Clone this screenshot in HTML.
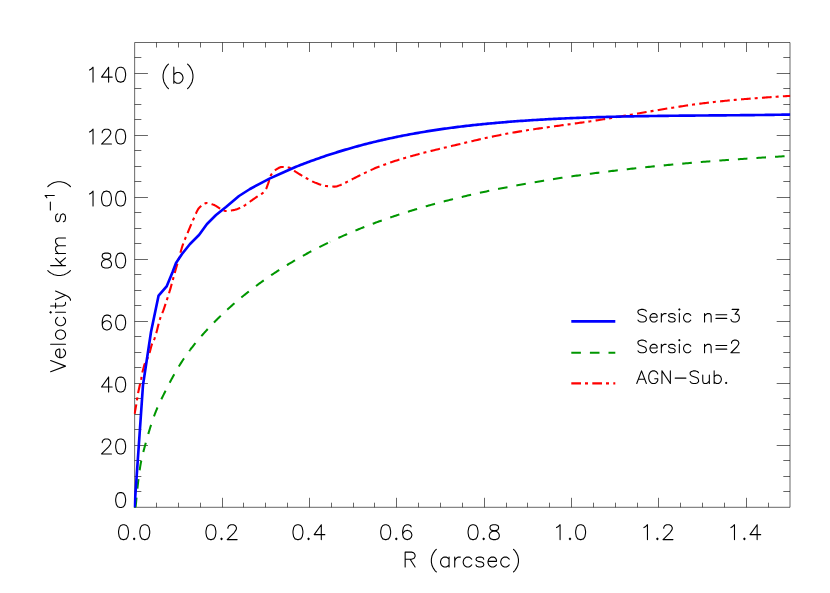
<!DOCTYPE html>
<html lang="en"><head><meta charset="utf-8"><title>Velocity vs R (b)</title>
<style>
html,body{margin:0;padding:0;background:#fff;}
body{width:830px;height:593px;overflow:hidden;font-family:"Liberation Sans",sans-serif;}
svg{display:block;}
.sem{font-family:"Liberation Sans",sans-serif;fill:#000;fill-opacity:0;stroke:none;}
</style></head>
<body>
<svg width="830" height="593" viewBox="0 0 830 593">
<rect x="0" y="0" width="830" height="593" fill="#fff"/>
<defs><clipPath id="plotclip"><rect x="133.65" y="42.5" width="656.55" height="465.4"/></clipPath></defs>
<!-- axes frame and tick marks -->
<path d="M134.65 42.5H790V507.3H134.65ZM156.5 507.3v-4.6M156.5 42.5v5M178.5 507.3v-4.6M178.5 42.5v5M200.5 507.3v-4.6M200.5 42.5v5M222.5 507.3v-9.5M222.5 42.5v9.5M243.5 507.3v-4.6M243.5 42.5v5M265.5 507.3v-4.6M265.5 42.5v5M287.5 507.3v-4.6M287.5 42.5v5M309.5 507.3v-9.5M309.5 42.5v9.5M331.5 507.3v-4.6M331.5 42.5v5M353.5 507.3v-4.6M353.5 42.5v5M374.5 507.3v-4.6M374.5 42.5v5M396.5 507.3v-9.5M396.5 42.5v9.5M418.5 507.3v-4.6M418.5 42.5v5M440.5 507.3v-4.6M440.5 42.5v5M462.5 507.3v-4.6M462.5 42.5v5M484.5 507.3v-9.5M484.5 42.5v9.5M506.5 507.3v-4.6M506.5 42.5v5M527.5 507.3v-4.6M527.5 42.5v5M549.5 507.3v-4.6M549.5 42.5v5M571.5 507.3v-9.5M571.5 42.5v9.5M593.5 507.3v-4.6M593.5 42.5v5M615.5 507.3v-4.6M615.5 42.5v5M637.5 507.3v-4.6M637.5 42.5v5M658.5 507.3v-9.5M658.5 42.5v9.5M680.5 507.3v-4.6M680.5 42.5v5M702.5 507.3v-4.6M702.5 42.5v5M724.5 507.3v-4.6M724.5 42.5v5M746.5 507.3v-9.5M746.5 42.5v9.5M768.5 507.3v-4.6M768.5 42.5v5M134.65 491.5h6.7M790 491.5h-6.7M134.65 476.5h6.7M790 476.5h-6.7M134.65 460.5h6.7M790 460.5h-6.7M134.65 445.5h13.3M790 445.5h-13.3M134.65 429.5h6.7M790 429.5h-6.7M134.65 414.5h6.7M790 414.5h-6.7M134.65 398.5h6.7M790 398.5h-6.7M134.65 383.5h13.3M790 383.5h-13.3M134.65 367.5h6.7M790 367.5h-6.7M134.65 352.5h6.7M790 352.5h-6.7M134.65 336.5h6.7M790 336.5h-6.7M134.65 321.5h13.3M790 321.5h-13.3M134.65 305.5h6.7M790 305.5h-6.7M134.65 290.5h6.7M790 290.5h-6.7M134.65 274.5h6.7M790 274.5h-6.7M134.65 259.5h13.3M790 259.5h-13.3M134.65 243.5h6.7M790 243.5h-6.7M134.65 228.5h6.7M790 228.5h-6.7M134.65 212.5h6.7M790 212.5h-6.7M134.65 197.5h13.3M790 197.5h-13.3M134.65 181.5h6.7M790 181.5h-6.7M134.65 166.5h6.7M790 166.5h-6.7M134.65 150.5h6.7M790 150.5h-6.7M134.65 135.5h13.3M790 135.5h-13.3M134.65 119.5h6.7M790 119.5h-6.7M134.65 104.5h6.7M790 104.5h-6.7M134.65 88.5h6.7M790 88.5h-6.7M134.65 73.5h13.3M790 73.5h-13.3M134.65 57.5h6.7M790 57.5h-6.7" fill="none" stroke="#000" stroke-width="0.6" stroke-linecap="butt" stroke-linejoin="miter"/>
<g clip-path="url(#plotclip)" fill="none" stroke-linejoin="round" stroke-linecap="butt">
<!-- Sersic n=2 (green dashed) -->
<path d="M134.65 507.3L134.65 508.17L134.66 508.96L134.66 509.66L134.67 510.29L134.68 510.85L134.7 511.32L134.72 511.73L134.74 512.06L134.76 512.33L134.78 512.52L134.81 512.65L134.84 512.72L134.88 512.72L134.91 512.66L134.95 512.54L134.99 512.36L135.04 512.13L135.08 511.83L135.13 511.49L135.19 511.09L135.24 510.65L135.3 510.15L135.36 509.61L135.42 509.02L135.49 508.39L135.56 507.72L135.63 507.01L135.7 506.25L135.78 505.46L135.86 504.64L135.94 503.78L136.02 502.88L136.11 501.96L136.2 501.01L136.29 500.03L136.39 499.02L136.49 498L136.59 496.94L136.69 495.87L136.8 494.78L136.91 493.67L137.02 492.54L137.13 491.4L137.25 490.24L137.37 489.08L137.49 487.9L137.61 486.72L137.74 485.53L137.87 484.34L138.01 483.14L138.14 481.94L138.28 480.74L138.42 479.54L138.56 478.35L138.71 477.16L138.86 475.98L139.01 474.81L139.16 473.64L139.32 472.49L139.48 471.35L139.64 470.23L139.81 469.12L139.98 468.03L140.15 466.96L140.32 465.91L140.5 464.88L140.67 463.88L140.86 462.89L141.04 461.93L141.23 460.99L141.42 460.06L141.61 459.15L141.8 458.25L142 457.37L142.2 456.5L142.4 455.63L142.61 454.78L142.82 453.93L143.03 453.09L143.24 452.25L143.46 451.42L143.67 450.59L143.9 449.75L144.12 448.92L144.35 448.08L144.58 447.24L144.81 446.39L145.04 445.54L145.28 444.67L145.52 443.8L145.76 442.92L146.01 442.04L146.26 441.15L146.51 440.25L146.76 439.35L147.02 438.44L147.28 437.52L147.54 436.61L147.8 435.69L148.07 434.76L148.34 433.84L148.61 432.91L148.89 431.98L149.17 431.05L149.45 430.12L149.73 429.19L150.02 428.25L150.3 427.32L150.6 426.39L150.89 425.46L151.19 424.54L151.49 423.61L151.79 422.69L152.09 421.78L152.4 420.86L152.71 419.95L153.02 419.05L153.34 418.15L153.66 417.26L153.98 416.37L154.3 415.49L154.63 414.62L154.95 413.76L155.29 412.9L155.62 412.06L155.96 411.22L156.3 410.39L156.64 409.57L156.98 408.75L157.33 407.94L157.68 407.14L158.03 406.34L158.39 405.55L158.75 404.76L159.11 403.98L159.47 403.2L159.84 402.42L160.21 401.64L160.58 400.86L160.96 400.08L161.33 399.3L161.71 398.52L162.09 397.74L162.48 396.96L162.87 396.17L163.26 395.38L163.65 394.59L164.05 393.79L164.45 392.99L164.85 392.18L165.25 391.37L165.66 390.56L166.07 389.75L166.48 388.94L166.89 388.12L167.31 387.3L167.73 386.48L168.15 385.65L168.58 384.83L169.01 384L169.44 383.18L169.87 382.35L170.31 381.52L170.75 380.7L171.19 379.87L171.63 379.04L172.08 378.22L172.53 377.39L172.98 376.56L173.44 375.74L173.89 374.92L174.35 374.09L174.82 373.27L175.28 372.45L175.75 371.64L176.22 370.82L176.7 370.01L177.17 369.2L177.65 368.4L178.13 367.59L178.62 366.79L179.11 366L179.6 365.21L180.09 364.42L180.58 363.63L181.08 362.85L181.58 362.08L182.09 361.3L182.59 360.54L183.1 359.77L183.61 359.01L184.13 358.25L184.64 357.5L185.16 356.75L185.68 356L186.21 355.25L186.74 354.51L187.27 353.77L187.8 353.04L188.33 352.31L188.87 351.58L189.41 350.85L189.96 350.13L190 350.07" stroke="#009600" stroke-width="2.05" stroke-dasharray="9.6 9" stroke-dashoffset="7.56"/>
<path d="M190 350.07L190.5 349.41L191.05 348.69L191.6 347.97L192.16 347.26L192.71 346.55L193.27 345.84L193.84 345.13L194.4 344.42L194.97 343.72L195.54 343.02L196.11 342.32L196.69 341.62L197.27 340.93L197.85 340.23L198.43 339.54L199.02 338.85L199.61 338.16L200.2 337.47L200.79 336.78L201.39 336.09L201.99 335.41L202.59 334.72L203.2 334.04L203.81 333.36L204.42 332.68L205.03 332L205.65 331.32L206.27 330.64L206.89 329.96L207.51 329.28L208.14 328.61L208.77 327.93L209.4 327.26L210.03 326.59L210.67 325.92L211.31 325.24L211.95 324.58L212.6 323.91L213.25 323.24L213.9 322.57L214.55 321.91L215.21 321.24L215.87 320.58L216.53 319.92L217.19 319.26L217.86 318.6L218.53 317.94L219.2 317.28L219.88 316.62L220.56 315.97L221.24 315.31L221.92 314.66L222.61 314L223.29 313.35L223.99 312.7L224.68 312.05L225.38 311.4L226.07 310.76L226.78 310.11L227.48 309.47L228.19 308.82L228.9 308.18L229.61 307.54L230.33 306.9L231.04 306.26L231.77 305.62L232.49 304.98L233.21 304.35L233.94 303.71L234.68 303.08L235.41 302.44L236.15 301.81L236.89 301.18L237.63 300.55L238.37 299.92L239.12 299.3L239.87 298.67L240.62 298.05L241.38 297.42L242.14 296.8L242.9 296.18L243.66 295.56L244.43 294.94L245.2 294.33L245.97 293.71L246.74 293.09L247.52 292.48L248.3 291.87L249.08 291.26L249.87 290.65L250.66 290.04L251.45 289.43L252.24 288.82L253.04 288.22L253.83 287.61L254.63 287.01L255.44 286.41L256.25 285.81L257.05 285.21L257.87 284.61L258.68 284.01L259.5 283.42L260.32 282.82L261.14 282.23L261.97 281.64L262.79 281.05L263.63 280.46L264.46 279.87L265.3 279.29L266.13 278.7L266.98 278.12L267.82 277.53L268.67 276.95L269.52 276.37L270.37 275.79L271.22 275.22L272.08 274.64L272.94 274.07L273.8 273.49L274.67 272.92L275.54 272.35L276.41 271.78L277.28 271.21L278.16 270.64L279.04 270.08L279.92 269.51L280.8 268.95L281.69 268.39L282.58 267.83L283.47 267.27L284.37 266.71L285.27 266.16L286.17 265.6L287.07 265.05L287.98 264.5L288.89 263.95L289.8 263.4L290.71 262.85L291.63 262.3L292.55 261.76L293.47 261.22L294.39 260.67L295.32 260.13L296.25 259.59L297.18 259.06L298.12 258.52L299.06 257.98L300 257.45L300.94 256.92L301.89 256.39L302.84 255.86L303.79 255.33L304.74 254.8L305.7 254.28L306.66 253.75L307.62 253.23L308.59 252.71L309.55 252.19L310.52 251.67L311.5 251.16L312.47 250.64L313.45 250.13L314.43 249.62L315.42 249.11L316.4 248.6L317.39 248.09L318.38 247.58L319.38 247.08L320.37 246.58L321.37 246.08L322.38 245.58L323.38 245.08L324.39 244.58L325.4 244.08L326.41 243.59L327.43 243.1L328.45 242.61L329.47 242.12L330 241.87" stroke="#009600" stroke-width="2.05" stroke-dasharray="9.6 9" stroke-dashoffset="0.71"/>
<path d="M330 241.87L330.49 241.63L331.52 241.14L332.55 240.66L333.58 240.18L334.62 239.69L335.65 239.21L336.69 238.74L337.74 238.26L338.78 237.78L339.83 237.31L340.88 236.84L341.94 236.37L342.99 235.9L344.05 235.43L345.11 234.96L346.18 234.5L347.24 234.04L348.31 233.58L349.39 233.12L350.46 232.66L351.54 232.2L352.62 231.75L353.7 231.29L354.79 230.84L355.88 230.39L356.97 229.95L358.06 229.5L359.16 229.05L360.26 228.61L361.36 228.17L362.46 227.73L363.57 227.29L364.68 226.85L365.79 226.42L366.91 225.98L368.03 225.55L369.15 225.12L370.27 224.69L371.4 224.27L372.52 223.84L373.66 223.42L374.79 222.99L375.93 222.57L377.07 222.15L378.21 221.74L379.35 221.32L380.5 220.91L381.65 220.49L382.8 220.08L383.96 219.67L385.12 219.26L386.28 218.86L387.44 218.45L388.61 218.05L389.78 217.65L390.95 217.25L392.12 216.85L393.3 216.45L394.48 216.06L395.66 215.66L396.85 215.27L398.04 214.88L399.23 214.49L400.42 214.1L401.61 213.71L402.81 213.33L404.01 212.94L405.22 212.56L406.42 212.18L407.63 211.8L408.85 211.42L410.06 211.05L411.28 210.67L412.5 210.3L413.72 209.93L414.95 209.56L416.17 209.19L417.4 208.82L418.64 208.46L419.87 208.09L421.11 207.73L422.35 207.37L423.6 207.01L424.84 206.65L426.09 206.29L427.35 205.94L428.6 205.59L429.86 205.23L431.12 204.88L432.38 204.53L433.65 204.18L434.92 203.84L436.19 203.49L437.46 203.15L438.74 202.81L440.02 202.46L441.3 202.12L442.58 201.79L443.87 201.45L445.16 201.11L446.45 200.78L447.75 200.45L449.04 200.12L450.34 199.79L451.65 199.46L452.95 199.13L454.26 198.81L455.57 198.48L456.89 198.16L458.2 197.84L459.52 197.52L460.85 197.2L462.17 196.88L463.5 196.56L464.83 196.25L466.16 195.94L467.5 195.62L468.83 195.31L470.17 195L471.52 194.7L472.86 194.39L474.21 194.08L475.56 193.78L476.92 193.48L478.28 193.18L479.63 192.88L481 192.58L482.36 192.28L483.73 191.98L485.1 191.69L486.47 191.4L487.85 191.1L489.23 190.81L490.61 190.52L491.99 190.23L493.38 189.95L494.77 189.66L496.16 189.38L497.55 189.09L498.95 188.81L500.35 188.53L501.75 188.25L503.16 187.98L504.57 187.7L505.98 187.42L507.39 187.15L508.81 186.88L510.22 186.6L511.65 186.33L513.07 186.06L514.5 185.8L515.93 185.53L517.36 185.26L518.79 185L520.23 184.74L521.67 184.47L523.11 184.21L524.56 183.95L526.01 183.7L527.46 183.44L528.91 183.18L530.37 182.93L531.82 182.68L533.29 182.42L534.75 182.17L536.22 181.92L537.69 181.67L539.16 181.43L540.63 181.18L542.11 180.94L543.59 180.69L545.08 180.45L546.56 180.21L548.05 179.97L549.54 179.73L551.03 179.49L552.53 179.25L554.03 179.02L555.53 178.78L557.04 178.55L558.54 178.32L560.05 178.09L561.57 177.86L563.08 177.63L564.6 177.4L566.12 177.17L567.64 176.95L569.17 176.72L570.7 176.5L572.23 176.28L573.76 176.06L575.3 175.84L576.84 175.62L578.38 175.4L579.93 175.18L581.47 174.97L583.02 174.76L584.58 174.54L586.13 174.33L587.69 174.12L589.25 173.91L590.81 173.7L592.38 173.49L593.95 173.28L595.52 173.08L597.1 172.87L598.67 172.67L600.25 172.47L601.83 172.27L603.42 172.07L605.01 171.87L606.6 171.67L608.19 171.47L609.79 171.28L611.38 171.08L612.99 170.89L614.59 170.69L616.2 170.5L617.8 170.31L619.42 170.12L621.03 169.93L622.65 169.74L624.27 169.55L625.89 169.37L627.52 169.18L629.14 169L630.77 168.82L632.41 168.63L634.04 168.45L635.68 168.27L637.32 168.09L638.97 167.92L640.62 167.74L642.26 167.56L643.92 167.39L645.57 167.21L647.23 167.04L648.89 166.87L650.55 166.7L652.22 166.53L653.89 166.36L655.56 166.19L657.23 166.02L658.91 165.85L660.59 165.69L662.27 165.52L663.95 165.36L665.64 165.2L667.33 165.03L669.02 164.87L670.72 164.71L672.41 164.55L674.11 164.4L675.82 164.24L677.52 164.08L679.23 163.93L680.94 163.77L682.66 163.62L684.37 163.46L686.09 163.31L687.81 163.16L689.54 163.01L691.27 162.86L693 162.71L694.73 162.57L696.46 162.42L698.2 162.27L699.94 162.13L701.69 161.98L703.43 161.84L705.18 161.7L706.93 161.56L708.69 161.42L710.44 161.28L712.2 161.14L713.96 161L715.73 160.86L717.5 160.73L719.27 160.59L721.04 160.45L722.82 160.32L724.59 160.19L726.38 160.05L728.16 159.92L729.95 159.79L731.73 159.66L733.53 159.53L735.32 159.4L737.12 159.28L738.92 159.15L740.72 159.02L742.52 158.9L744.33 158.77L746.14 158.65L747.96 158.53L749.77 158.41L751.59 158.28L753.41 158.16L755.24 158.04L757.06 157.93L758.89 157.81L760.72 157.69L762.56 157.57L764.4 157.46L766.24 157.34L768.08 157.23L769.92 157.11L771.77 157L773.62 156.89L775.48 156.78L777.33 156.66L779.19 156.55L781.05 156.44L782.92 156.34L784.78 156.23L786.65 156.12L788.53 156.01L790.4 155.91" stroke="#009600" stroke-width="2.05" stroke-dasharray="9.6 9" stroke-dashoffset="9.36"/>
<!-- AGN-Sub. (red dash-dot) -->
<path d="M134.5 414.5L136.2 405L138.1 393L139.6 386L141.2 378.8L142.2 373L144.6 364L145.18 363.14L145.76 362.13L146.34 360.98L146.92 359.71L147.5 358.34L148.08 356.87L148.66 355.33L149.24 353.73L149.82 352L150.4 349.82L150.98 347.48L151.56 345.32L152.14 343.66L152.72 342.47L153.3 341.43L153.88 340.28L154.46 338.81L155.04 337.1L155.62 335.25L156.2 333.33L156.78 331.22L157.36 328.96L157.94 326.62L158.52 324.29L159.1 322.07L159.68 320.02L160.26 318.23L160.84 316.65L161.42 315.19L162 313.79L162.58 312.39L163.16 310.92L163.74 309.33L164.32 307.67L164.9 305.95L165.48 304.19L166.06 302.41L166.64 300.62L167.22 298.83L167.8 297.04L168.38 295.23L168.96 293.4L169.54 291.53L170.12 289.6L170.7 287.61L171.28 285.56L171.86 283.47L172.44 281.35L173.02 279.22L173.6 277.08L174.18 274.96L174.76 272.86L175.34 270.81L175.92 268.77L176.5 266.74L177.08 264.71L177.66 262.69L178.24 260.67L178.82 258.64L179.4 256.58L179.98 254.45L180.56 252.29L181.14 250.18L181.72 248.17L182.3 246.31L182.88 244.62L183.46 243.02L184.04 241.5L184.62 240.03L185.2 238.62L185.78 237.24L186.36 235.88L186.94 234.52L187.52 233.16L188.1 231.77L188.68 230.37L189.26 228.97L189.84 227.57L190.42 226.19L191 224.81L191.58 223.45L192.16 222.11L192.74 220.79L193.32 219.49L193.9 218.22L194.48 216.95L195.06 215.61L195.64 214.26L196.22 212.92L196.8 211.63L197.38 210.45L197.96 209.4L198.54 208.54L199.12 207.89L199.7 207.32L200.28 206.77L200.86 206.23L201.44 205.72L202.02 205.24L202.59 204.8L203.17 204.39L203.75 204.02L204.33 203.71L204.91 203.44L205.49 203.24L206.07 203.09L206.65 203.01L207.23 203L207.81 203.04L208.39 203.12L208.97 203.24L209.55 203.38L210.13 203.55L210.71 203.74L211.29 203.95L211.87 204.17L212.45 204.39L213.03 204.62L213.61 204.85L214.19 205.08L214.77 205.33L215.35 205.63L215.93 205.95L216.51 206.3L217.09 206.66L217.67 207.04L218.25 207.41L218.83 207.78L219.41 208.14L219.99 208.48L220.57 208.79L221.15 209.07L221.73 209.37L222.31 209.67L222.89 209.98L223.47 210.28L224.05 210.54L224.63 210.76L225.21 210.92L225.79 210.99L226.37 211L226.95 210.98L227.53 210.95L228.11 210.9L228.69 210.85L229.27 210.78L229.85 210.71L230.43 210.62L231.01 210.53L231.59 210.44L232.17 210.34L232.75 210.23L233.33 210.12L233.91 210.02L234.49 209.9L235.07 209.76L235.65 209.6L236.23 209.43L236.81 209.24L237.39 209.03L237.97 208.81L238.55 208.57L239.13 208.33L239.71 208.07L240.29 207.81L240.87 207.54L241.45 207.26L242.03 206.98L242.61 206.69L243.19 206.36L243.77 206.02L244.35 205.64L244.93 205.26L245.51 204.85L246.09 204.44L246.67 204.02L247.25 203.59L247.83 203.16L248.41 202.73L248.99 202.31L249.57 201.9L250.15 201.5L250.73 201.1L251.31 200.7L251.89 200.29L252.47 199.89L253.05 199.48L253.63 199.08L254.21 198.67L254.79 198.26L255.37 197.86L255.95 197.45L256.53 197.04L257.11 196.63L257.69 196.22L258.27 195.81L258.85 195.44L259.43 195.09L260.01 194.76L260.59 194.44L261.17 194.11L261.75 193.76L262.33 193.38L262.91 192.97L263.49 192.51L264.07 191.99L264.65 191.4L265.23 190.7L265.81 189.66L266.39 188.32L266.97 186.8L267.55 185.21L268.13 183.65L268.71 181.85L269.29 179.86L269.87 177.9L270.45 176.19L271.03 174.95L271.61 174.04L272.19 173.22L272.77 172.48L273.35 171.82L273.93 171.23L274.51 170.7L275.09 170.23L275.67 169.82L276.25 169.44L276.83 169.08L277.41 168.72L277.99 168.38L278.57 168.05L279.15 167.76L279.73 167.5L280.31 167.29L280.89 167.13L281.47 167.03L282.05 167L282.63 167.01L283.21 167.02L283.79 167.05L284.37 167.08L284.95 167.12L285.53 167.17L286.11 167.23L286.69 167.29L287.27 167.36L287.85 167.44L288.43 167.52L289.01 167.6L289.59 167.73L290.17 167.95L290.75 168.23L291.33 168.57L291.91 168.96L292.49 169.38L293.07 169.83L293.65 170.28L294.23 170.74L294.81 171.18L295.39 171.6L295.97 171.98L296.55 172.34L297.13 172.7L297.71 173.05L298.29 173.41L298.87 173.77L299.45 174.13L300.03 174.49L300.61 174.85L301.19 175.2L301.77 175.55L302.35 175.9L302.93 176.25L303.51 176.59L304.09 176.92L304.67 177.26L305.25 177.58L305.83 177.9L306.41 178.22L306.99 178.54L307.57 178.86L308.15 179.18L308.73 179.5L309.31 179.81L309.89 180.12L310.47 180.43L311.05 180.74L311.63 181.03L312.21 181.33L312.79 181.61L313.37 181.88L313.95 182.15L314.53 182.41L315.11 182.65L315.69 182.88L316.27 183.1L316.85 183.32L317.43 183.54L318.01 183.76L318.58 183.98L319.16 184.19L319.74 184.4L320.32 184.61L320.9 184.8L321.48 184.99L322.06 185.17L322.64 185.33L323.22 185.49L323.8 185.63L324.38 185.75L324.96 185.86L325.54 185.94L326.12 186.01L326.7 186.08L327.28 186.13L327.86 186.19L328.44 186.25L329.02 186.3L329.6 186.35L330.18 186.4L330.76 186.44L331.34 186.48L331.92 186.51L332.5 186.54L333.08 186.56L333.66 186.58L334.24 186.59L334.82 186.6L335.4 186.58L335.98 186.51L336.56 186.39L337.14 186.23L337.72 186.04L338.3 185.83L338.88 185.61L339.46 185.39L340.04 185.18L340.62 184.97L341.2 184.73L341.78 184.48L342.36 184.21L342.94 183.93L343.52 183.64L344.1 183.35L344.68 183.06L345.26 182.76L345.84 182.48L346.42 182.19L347 181.91L347.58 181.62L348.16 181.33L348.74 181.03L349.32 180.73L349.9 180.44L350.48 180.14L351.06 179.84L351.64 179.53L352.22 179.23L352.8 178.93L353.38 178.63L353.96 178.33L354.54 178.04L355.12 177.74L355.7 177.45L356.28 177.16L356.86 176.87L357.44 176.58L358.02 176.29L358.6 176L359.18 175.72L359.76 175.43L360.34 175.14L360.92 174.86L361.5 174.57L362.08 174.29L362.66 174.01L363.24 173.72L363.82 173.44L364.4 173.16L364.98 172.89L365.56 172.61L366.14 172.33L366.72 172.06L367.3 171.79L367.88 171.51L368.46 171.24L369.04 170.97L369.62 170.7L370.2 170.43L370.78 170.16L371.36 169.9L371.94 169.63L372.52 169.37L373.1 169.1L373.68 168.84L374.26 168.58L374.84 168.32L375.42 168.06L376 167.8L377.39 167.25L378.77 166.72L380.16 166.19L381.54 165.67L382.93 165.16L384.32 164.66L385.7 164.16L387.09 163.67L388.47 163.19L389.86 162.71L391.25 162.24L392.63 161.78L394.02 161.32L395.4 160.87L396.79 160.43L398.18 159.99L399.56 159.56L400.95 159.14L402.33 158.72L403.72 158.3L405.11 157.89L406.49 157.49L407.88 157.09L409.26 156.69L410.65 156.3L412.03 155.91L413.42 155.53L414.81 155.15L416.19 154.78L417.58 154.41L418.96 154.04L420.35 153.67L421.74 153.31L423.12 152.95L424.51 152.6L425.89 152.25L427.28 151.9L428.67 151.55L430.05 151.21L431.44 150.86L432.82 150.52L434.21 150.18L435.6 149.84L436.98 149.51L438.37 149.17L439.75 148.84L441.14 148.5L442.53 148.17L443.91 147.84L445.3 147.51L446.68 147.18L448.07 146.85L449.46 146.51L450.84 146.18L452.23 145.85L453.61 145.52L455 145.19L456.39 144.86L457.77 144.52L459.16 144.19L460.54 143.86L461.93 143.53L463.32 143.2L464.7 142.87L466.09 142.54L467.47 142.22L468.86 141.89L470.24 141.57L471.63 141.24L473.02 140.92L474.4 140.6L475.79 140.28L477.17 139.96L478.56 139.64L479.95 139.33L481.33 139.02L482.72 138.71L484.1 138.4L485.49 138.09L486.88 137.79L488.26 137.49L489.65 137.19L491.03 136.89L492.42 136.6L493.81 136.31L495.19 136.02L496.58 135.74L497.96 135.46L499.35 135.18L500.74 134.9L502.12 134.63L503.51 134.37L504.89 134.1L506.28 133.84L507.67 133.58L509.05 133.33L510.44 133.08L511.82 132.83L513.21 132.59L514.6 132.35L515.98 132.11L517.37 131.87L518.75 131.64L520.14 131.41L521.53 131.18L522.91 130.95L524.3 130.73L525.68 130.51L527.07 130.29L528.45 130.07L529.84 129.86L531.23 129.64L532.61 129.43L534 129.23L535.38 129.02L536.77 128.81L538.16 128.61L539.54 128.41L540.93 128.2L542.31 128.01L543.7 127.81L545.09 127.61L546.47 127.41L547.86 127.22L549.24 127.02L550.63 126.83L552.02 126.64L553.4 126.45L554.79 126.25L556.17 126.06L557.56 125.87L558.95 125.68L560.33 125.49L561.72 125.3L563.1 125.11L564.49 124.92L565.88 124.74L567.26 124.55L568.65 124.36L570.03 124.17L571.42 123.98L572.81 123.79L574.19 123.59L575.58 123.4L576.96 123.21L578.35 123.02L579.74 122.82L581.12 122.63L582.51 122.43L583.89 122.23L585.28 122.04L586.66 121.84L588.05 121.64L589.44 121.43L590.82 121.23L592.21 121.02L593.59 120.82L594.98 120.61L596.37 120.4L597.75 120.19L599.14 119.97L600.52 119.76L601.91 119.54L603.3 119.32L604.68 119.1L606.07 118.88L607.45 118.65L608.84 118.43L610.23 118.2L611.61 117.98L613 117.75L614.38 117.52L615.77 117.29L617.16 117.06L618.54 116.82L619.93 116.59L621.31 116.36L622.7 116.12L624.09 115.88L625.47 115.65L626.86 115.41L628.24 115.17L629.63 114.94L631.02 114.7L632.4 114.46L633.79 114.22L635.17 113.98L636.56 113.74L637.95 113.5L639.33 113.26L640.72 113.02L642.1 112.79L643.49 112.55L644.87 112.31L646.26 112.07L647.65 111.83L649.03 111.59L650.42 111.36L651.8 111.12L653.19 110.88L654.58 110.65L655.96 110.41L657.35 110.18L658.73 109.95L660.12 109.71L661.51 109.48L662.89 109.25L664.28 109.02L665.66 108.79L667.05 108.57L668.44 108.34L669.82 108.12L671.21 107.89L672.59 107.67L673.98 107.45L675.37 107.23L676.75 107.02L678.14 106.8L679.52 106.59L680.91 106.38L682.3 106.17L683.68 105.96L685.07 105.75L686.45 105.55L687.84 105.35L689.23 105.15L690.61 104.95L692 104.75L693.38 104.56L694.77 104.37L696.16 104.18L697.54 104L698.93 103.81L700.31 103.63L701.7 103.46L703.08 103.28L704.47 103.11L705.86 102.94L707.24 102.77L708.63 102.61L710.01 102.44L711.4 102.29L712.79 102.13L714.17 101.97L715.56 101.82L716.94 101.67L718.33 101.52L719.72 101.37L721.1 101.23L722.49 101.09L723.87 100.95L725.26 100.81L726.65 100.67L728.03 100.54L729.42 100.41L730.8 100.28L732.19 100.15L733.58 100.02L734.96 99.9L736.35 99.77L737.73 99.65L739.12 99.53L740.51 99.41L741.89 99.29L743.28 99.18L744.66 99.06L746.05 98.95L747.44 98.84L748.82 98.73L750.21 98.62L751.59 98.51L752.98 98.41L754.37 98.3L755.75 98.2L757.14 98.1L758.52 97.99L759.91 97.89L761.29 97.79L762.68 97.69L764.07 97.6L765.45 97.5L766.84 97.4L768.22 97.31L769.61 97.21L771 97.12L772.38 97.02L773.77 96.93L775.15 96.84L776.54 96.75L777.93 96.65L779.31 96.56L780.7 96.47L782.08 96.38L783.47 96.29L784.86 96.2L786.24 96.11L787.63 96.02L789.01 95.93L790.4 95.85" stroke="#ff0000" stroke-width="2.1" stroke-dasharray="9.7 4 3 4.3" stroke-dashoffset="20.36"/>
<!-- Sersic n=3 (blue solid) -->
<path d="M134.5 507.3L143 385L151 332L158.6 295.6L166.6 286.4L172.6 272L176 263L182 254L190 244L199 235L207 224L216 215L226 207L239 196L250 189L260 183.6L270 178.4L282 173L296 166.8L297.65 166.14L299.31 165.48L300.96 164.84L302.61 164.2L304.27 163.57L305.92 162.94L307.57 162.32L309.23 161.7L310.88 161.09L312.54 160.49L314.19 159.89L315.84 159.3L317.5 158.71L319.15 158.13L320.8 157.56L322.46 156.99L324.11 156.43L325.76 155.87L327.42 155.32L329.07 154.78L330.72 154.24L332.38 153.7L334.03 153.18L335.68 152.65L337.34 152.14L338.99 151.62L340.64 151.12L342.3 150.62L343.95 150.12L345.61 149.63L347.26 149.15L348.91 148.67L350.57 148.19L352.22 147.72L353.87 147.26L355.53 146.8L357.18 146.35L358.83 145.9L360.49 145.45L362.14 145.01L363.79 144.58L365.45 144.15L367.1 143.73L368.75 143.31L370.41 142.89L372.06 142.48L373.72 142.08L375.37 141.68L377.02 141.28L378.68 140.89L380.33 140.51L381.98 140.12L383.64 139.75L385.29 139.38L386.94 139.01L388.6 138.64L390.25 138.28L391.9 137.93L393.56 137.58L395.21 137.23L396.86 136.89L398.52 136.55L400.17 136.22L401.82 135.89L403.48 135.57L405.13 135.24L406.79 134.93L408.44 134.61L410.09 134.31L411.75 134L413.4 133.7L415.05 133.4L416.71 133.11L418.36 132.82L420.01 132.53L421.67 132.25L423.32 131.97L424.97 131.7L426.63 131.43L428.28 131.16L429.93 130.9L431.59 130.64L433.24 130.38L434.89 130.13L436.55 129.88L438.2 129.63L439.86 129.39L441.51 129.15L443.16 128.91L444.82 128.68L446.47 128.45L448.12 128.23L449.78 128L451.43 127.78L453.08 127.57L454.74 127.35L456.39 127.14L458.04 126.93L459.7 126.73L461.35 126.53L463 126.33L464.66 126.13L466.31 125.94L467.97 125.75L469.62 125.56L471.27 125.38L472.93 125.19L474.58 125.01L476.23 124.84L477.89 124.66L479.54 124.49L481.19 124.32L482.85 124.16L484.5 123.99L486.15 123.83L487.81 123.67L489.46 123.51L491.11 123.36L492.77 123.21L494.42 123.06L496.07 122.91L497.73 122.76L499.38 122.62L501.04 122.48L502.69 122.34L504.34 122.2L506 122.07L507.65 121.93L509.3 121.8L510.96 121.67L512.61 121.54L514.26 121.42L515.92 121.29L517.57 121.17L519.22 121.05L520.88 120.93L522.53 120.82L524.18 120.7L525.84 120.59L527.49 120.48L529.15 120.37L530.8 120.26L532.45 120.16L534.11 120.05L535.76 119.95L537.41 119.85L539.07 119.75L540.72 119.65L542.37 119.56L544.03 119.46L545.68 119.37L547.33 119.28L548.99 119.19L550.64 119.1L552.29 119.01L553.95 118.93L555.6 118.84L557.25 118.76L558.91 118.68L560.56 118.6L562.22 118.52L563.87 118.45L565.52 118.37L567.18 118.3L568.83 118.23L570.48 118.16L572.14 118.09L573.79 118.02L575.44 117.95L577.1 117.89L578.75 117.82L580.4 117.76L582.06 117.7L583.71 117.64L585.36 117.58L587.02 117.52L588.67 117.46L590.33 117.41L591.98 117.35L593.63 117.3L595.29 117.24L596.94 117.19L598.59 117.14L600.25 117.09L601.9 117.05L603.55 117L605.21 116.95L606.86 116.91L608.51 116.86L610.17 116.82L611.82 116.78L613.47 116.74L615.13 116.7L616.78 116.66L618.43 116.62L620.09 116.58L621.74 116.54L623.4 116.51L625.05 116.47L626.7 116.44L628.36 116.41L630.01 116.37L631.66 116.34L633.32 116.31L634.97 116.28L636.62 116.25L638.28 116.22L639.93 116.19L641.58 116.17L643.24 116.14L644.89 116.11L646.54 116.09L648.2 116.06L649.85 116.04L651.51 116.02L653.16 115.99L654.81 115.97L656.47 115.95L658.12 115.93L659.77 115.91L661.43 115.89L663.08 115.87L664.73 115.85L666.39 115.83L668.04 115.81L669.69 115.79L671.35 115.77L673 115.76L674.65 115.74L676.31 115.72L677.96 115.71L679.61 115.69L681.27 115.67L682.92 115.66L684.58 115.64L686.23 115.63L687.88 115.61L689.54 115.6L691.19 115.59L692.84 115.57L694.5 115.56L696.15 115.55L697.8 115.53L699.46 115.52L701.11 115.51L702.76 115.49L704.42 115.48L706.07 115.47L707.72 115.45L709.38 115.44L711.03 115.43L712.68 115.42L714.34 115.4L715.99 115.39L717.65 115.38L719.3 115.37L720.95 115.35L722.61 115.34L724.26 115.33L725.91 115.31L727.57 115.3L729.22 115.29L730.87 115.27L732.53 115.26L734.18 115.25L735.83 115.23L737.49 115.22L739.14 115.2L740.79 115.19L742.45 115.17L744.1 115.16L745.76 115.14L747.41 115.13L749.06 115.11L750.72 115.09L752.37 115.08L754.02 115.06L755.68 115.04L757.33 115.02L758.98 115.01L760.64 114.99L762.29 114.97L763.94 114.95L765.6 114.93L767.25 114.91L768.9 114.89L770.56 114.86L772.21 114.84L773.86 114.82L775.52 114.79L777.17 114.77L778.83 114.75L780.48 114.72L782.13 114.69L783.79 114.67L785.44 114.64L787.09 114.61L788.75 114.58L790.4 114.55" stroke="#0000ff" stroke-width="2.65"/>
</g>
<!-- legend samples -->
<g fill="none" stroke-linecap="butt">
<path d="M571.3 321.4H615.3" stroke="#0000ff" stroke-width="2.65"/>
<path d="M571.3 352.7H615.3" stroke="#009600" stroke-width="2.05" stroke-dasharray="9.6 9"/>
<path d="M571.3 383.4H615.3" stroke="#ff0000" stroke-width="2.1" stroke-dasharray="9.7 4 3 4.3"/>
</g>
<!-- vector (Hershey-style) lettering -->
<g fill="none" stroke="#000" stroke-width="1.1" stroke-linecap="round" stroke-linejoin="round">
<path d="M122.82 524.73 L120.7 525.44 L119.28 527.56 L118.57 531.1 L118.57 533.23 L119.28 536.77 L120.7 538.89 L122.82 539.6 L124.24 539.6 L126.36 538.89 L127.78 536.77 L128.49 533.23 L128.49 531.1 L127.78 527.56 L126.36 525.44 L124.24 524.73 L122.82 524.73M134.15 538.18 L133.44 538.89 L134.15 539.6 L134.86 538.89 L134.15 538.18M144.06 524.73 L141.94 525.44 L140.52 527.56 L139.81 531.1 L139.81 533.23 L140.52 536.77 L141.94 538.89 L144.06 539.6 L145.48 539.6 L147.6 538.89 L149.02 536.77 L149.73 533.23 L149.73 531.1 L149.02 527.56 L147.6 525.44 L145.48 524.73 L144.06 524.73"/>
<path d="M210.2 524.73 L208.08 525.44 L206.66 527.56 L205.95 531.1 L205.95 533.23 L206.66 536.77 L208.08 538.89 L210.2 539.6 L211.62 539.6 L213.74 538.89 L215.16 536.77 L215.87 533.23 L215.87 531.1 L215.16 527.56 L213.74 525.44 L211.62 524.73 L210.2 524.73M221.53 538.18 L220.82 538.89 L221.53 539.6 L222.24 538.89 L221.53 538.18M227.9 528.27 L227.9 527.56 L228.61 526.15 L229.32 525.44 L230.73 524.73 L233.57 524.73 L234.98 525.44 L235.69 526.15 L236.4 527.56 L236.4 528.98 L235.69 530.4 L234.27 532.52 L227.19 539.6 L237.11 539.6"/>
<path d="M297.23 524.73 L295.1 525.44 L293.69 527.56 L292.98 531.1 L292.98 533.23 L293.69 536.77 L295.1 538.89 L297.23 539.6 L298.64 539.6 L300.77 538.89 L302.18 536.77 L302.89 533.23 L302.89 531.1 L302.18 527.56 L300.77 525.44 L298.64 524.73 L297.23 524.73M308.56 538.18 L307.85 538.89 L308.56 539.6 L309.26 538.89 L308.56 538.18M321.3 524.73 L314.22 534.64 L324.84 534.64M321.3 524.73 L321.3 539.6"/>
<path d="M384.96 524.73 L382.84 525.44 L381.42 527.56 L380.71 531.1 L380.71 533.23 L381.42 536.77 L382.84 538.89 L384.96 539.6 L386.38 539.6 L388.5 538.89 L389.92 536.77 L390.63 533.23 L390.63 531.1 L389.92 527.56 L388.5 525.44 L386.38 524.73 L384.96 524.73M396.29 538.18 L395.58 538.89 L396.29 539.6 L397 538.89 L396.29 538.18M411.16 526.86 L410.45 525.44 L408.33 524.73 L406.91 524.73 L404.79 525.44 L403.37 527.56 L402.66 531.1 L402.66 534.64 L403.37 537.48 L404.79 538.89 L406.91 539.6 L407.62 539.6 L409.74 538.89 L411.16 537.48 L411.87 535.35 L411.87 534.64 L411.16 532.52 L409.74 531.1 L407.62 530.4 L406.91 530.4 L404.79 531.1 L403.37 532.52 L402.66 534.64"/>
<path d="M472.34 524.73 L470.22 525.44 L468.8 527.56 L468.09 531.1 L468.09 533.23 L468.8 536.77 L470.22 538.89 L472.34 539.6 L473.76 539.6 L475.88 538.89 L477.3 536.77 L478.01 533.23 L478.01 531.1 L477.3 527.56 L475.88 525.44 L473.76 524.73 L472.34 524.73M483.67 538.18 L482.96 538.89 L483.67 539.6 L484.38 538.89 L483.67 538.18M492.87 524.73 L490.75 525.44 L490.04 526.86 L490.04 528.27 L490.75 529.69 L492.17 530.4 L495 531.1 L497.12 531.81 L498.54 533.23 L499.25 534.64 L499.25 536.77 L498.54 538.18 L497.83 538.89 L495.71 539.6 L492.87 539.6 L490.75 538.89 L490.04 538.18 L489.33 536.77 L489.33 534.64 L490.04 533.23 L491.46 531.81 L493.58 531.1 L496.41 530.4 L497.83 529.69 L498.54 528.27 L498.54 526.86 L497.83 525.44 L495.71 524.73 L492.87 524.73"/>
<path d="M556.54 527.56 L557.95 526.86 L560.08 524.73 L560.08 539.6M569.99 538.18 L569.28 538.89 L569.99 539.6 L570.7 538.89 L569.99 538.18M579.9 524.73 L577.78 525.44 L576.36 527.56 L575.65 531.1 L575.65 533.23 L576.36 536.77 L577.78 538.89 L579.9 539.6 L581.32 539.6 L583.44 538.89 L584.86 536.77 L585.56 533.23 L585.56 531.1 L584.86 527.56 L583.44 525.44 L581.32 524.73 L579.9 524.73"/>
<path d="M643.92 527.56 L645.33 526.86 L647.46 524.73 L647.46 539.6M657.37 538.18 L656.66 538.89 L657.37 539.6 L658.08 538.89 L657.37 538.18M663.74 528.27 L663.74 527.56 L664.45 526.15 L665.16 525.44 L666.57 524.73 L669.4 524.73 L670.82 525.44 L671.53 526.15 L672.24 527.56 L672.24 528.98 L671.53 530.4 L670.11 532.52 L663.03 539.6 L672.94 539.6"/>
<path d="M730.94 527.56 L732.36 526.86 L734.48 524.73 L734.48 539.6M744.39 538.18 L743.69 538.89 L744.39 539.6 L745.1 538.89 L744.39 538.18M757.14 524.73 L750.06 534.64 L760.68 534.64M757.14 524.73 L757.14 539.6"/>
<path d="M119.94 492.63 L117.81 493.34 L116.4 495.46 L115.69 499 L115.69 501.13 L116.4 504.67 L117.81 506.79 L119.94 507.5 L121.35 507.5 L123.48 506.79 L124.89 504.67 L125.6 501.13 L125.6 499 L124.89 495.46 L123.48 493.34 L121.35 492.63 L119.94 492.63"/>
<path d="M102.24 442.6 L102.24 441.89 L102.94 440.47 L103.65 439.77 L105.07 439.06 L107.9 439.06 L109.32 439.77 L110.02 440.47 L110.73 441.89 L110.73 443.31 L110.02 444.72 L108.61 446.85 L101.53 453.93 L111.44 453.93M119.94 439.06 L117.81 439.77 L116.4 441.89 L115.69 445.43 L115.69 447.55 L116.4 451.09 L117.81 453.22 L119.94 453.93 L121.35 453.93 L123.48 453.22 L124.89 451.09 L125.6 447.55 L125.6 445.43 L124.89 441.89 L123.48 439.77 L121.35 439.06 L119.94 439.06"/>
<path d="M108.61 377.09 L101.53 387 L112.15 387M108.61 377.09 L108.61 391.95M119.94 377.09 L117.81 377.79 L116.4 379.92 L115.69 383.46 L115.69 385.58 L116.4 389.12 L117.81 391.25 L119.94 391.95 L121.35 391.95 L123.48 391.25 L124.89 389.12 L125.6 385.58 L125.6 383.46 L124.89 379.92 L123.48 377.79 L121.35 377.09 L119.94 377.09"/>
<path d="M110.73 317.24 L110.02 315.82 L107.9 315.11 L106.48 315.11 L104.36 315.82 L102.94 317.94 L102.24 321.48 L102.24 325.02 L102.94 327.86 L104.36 329.27 L106.48 329.98 L107.19 329.98 L109.32 329.27 L110.73 327.86 L111.44 325.73 L111.44 325.02 L110.73 322.9 L109.32 321.48 L107.19 320.78 L106.48 320.78 L104.36 321.48 L102.94 322.9 L102.24 325.02M119.94 315.11 L117.81 315.82 L116.4 317.94 L115.69 321.48 L115.69 323.61 L116.4 327.15 L117.81 329.27 L119.94 329.98 L121.35 329.98 L123.48 329.27 L124.89 327.15 L125.6 323.61 L125.6 321.48 L124.89 317.94 L123.48 315.82 L121.35 315.11 L119.94 315.11"/>
<path d="M105.07 253.14 L102.94 253.85 L102.24 255.26 L102.24 256.68 L102.94 258.09 L104.36 258.8 L107.19 259.51 L109.32 260.22 L110.73 261.63 L111.44 263.05 L111.44 265.17 L110.73 266.59 L110.02 267.3 L107.9 268.01 L105.07 268.01 L102.94 267.3 L102.24 266.59 L101.53 265.17 L101.53 263.05 L102.24 261.63 L103.65 260.22 L105.78 259.51 L108.61 258.8 L110.02 258.09 L110.73 256.68 L110.73 255.26 L110.02 253.85 L107.9 253.14 L105.07 253.14M119.94 253.14 L117.81 253.85 L116.4 255.97 L115.69 259.51 L115.69 261.63 L116.4 265.17 L117.81 267.3 L119.94 268.01 L121.35 268.01 L123.48 267.3 L124.89 265.17 L125.6 261.63 L125.6 259.51 L124.89 255.97 L123.48 253.85 L121.35 253.14 L119.94 253.14"/>
<path d="M89.49 194 L90.91 193.29 L93.03 191.17 L93.03 206.03M105.78 191.17 L103.65 191.87 L102.24 194 L101.53 197.54 L101.53 199.66 L102.24 203.2 L103.65 205.33 L105.78 206.03 L107.19 206.03 L109.32 205.33 L110.73 203.2 L111.44 199.66 L111.44 197.54 L110.73 194 L109.32 191.87 L107.19 191.17 L105.78 191.17M119.94 191.17 L117.81 191.87 L116.4 194 L115.69 197.54 L115.69 199.66 L116.4 203.2 L117.81 205.33 L119.94 206.03 L121.35 206.03 L123.48 205.33 L124.89 203.2 L125.6 199.66 L125.6 197.54 L124.89 194 L123.48 191.87 L121.35 191.17 L119.94 191.17"/>
<path d="M89.49 132.02 L90.91 131.32 L93.03 129.19 L93.03 144.06M102.24 132.73 L102.24 132.02 L102.94 130.61 L103.65 129.9 L105.07 129.19 L107.9 129.19 L109.32 129.9 L110.02 130.61 L110.73 132.02 L110.73 133.44 L110.02 134.86 L108.61 136.98 L101.53 144.06 L111.44 144.06M119.94 129.19 L117.81 129.9 L116.4 132.02 L115.69 135.56 L115.69 137.69 L116.4 141.23 L117.81 143.35 L119.94 144.06 L121.35 144.06 L123.48 143.35 L124.89 141.23 L125.6 137.69 L125.6 135.56 L124.89 132.02 L123.48 129.9 L121.35 129.19 L119.94 129.19"/>
<path d="M89.49 70.05 L90.91 69.34 L93.03 67.22 L93.03 82.09M108.61 67.22 L101.53 77.13 L112.15 77.13M108.61 67.22 L108.61 82.09M119.94 67.22 L117.81 67.93 L116.4 70.05 L115.69 73.59 L115.69 75.71 L116.4 79.25 L117.81 81.38 L119.94 82.09 L121.35 82.09 L123.48 81.38 L124.89 79.25 L125.6 75.71 L125.6 73.59 L124.89 70.05 L123.48 67.93 L121.35 67.22 L119.94 67.22"/>
<path d="M405.16 552.13 L405.16 567M405.16 552.13 L411.53 552.13 L413.66 552.84 L414.36 553.55 L415.07 554.96 L415.07 556.38 L414.36 557.8 L413.66 558.5 L411.53 559.21 L405.16 559.21M410.12 559.21 L415.07 567M436.31 549.3 L434.9 550.72 L433.48 552.84 L432.06 555.67 L431.36 559.21 L431.36 562.04 L432.06 565.58 L433.48 568.42 L434.9 570.54 L436.31 571.96M449.06 557.09 L449.06 567M449.06 559.21 L447.64 557.8 L446.22 557.09 L444.1 557.09 L442.68 557.8 L441.27 559.21 L440.56 561.34 L440.56 562.75 L441.27 564.88 L442.68 566.29 L444.1 567 L446.22 567 L447.64 566.29 L449.06 564.88M454.72 557.09 L454.72 567M454.72 561.34 L455.43 559.21 L456.84 557.8 L458.26 557.09 L460.38 557.09M471.71 559.21 L470.3 557.8 L468.88 557.09 L466.76 557.09 L465.34 557.8 L463.92 559.21 L463.22 561.34 L463.22 562.75 L463.92 564.88 L465.34 566.29 L466.76 567 L468.88 567 L470.3 566.29 L471.71 564.88M483.75 559.21 L483.04 557.8 L480.92 557.09 L478.79 557.09 L476.67 557.8 L475.96 559.21 L476.67 560.63 L478.08 561.34 L481.62 562.04 L483.04 562.75 L483.75 564.17 L483.75 564.88 L483.04 566.29 L480.92 567 L478.79 567 L476.67 566.29 L475.96 564.88M488 561.34 L496.49 561.34 L496.49 559.92 L495.78 558.5 L495.08 557.8 L493.66 557.09 L491.54 557.09 L490.12 557.8 L488.7 559.21 L488 561.34 L488 562.75 L488.7 564.88 L490.12 566.29 L491.54 567 L493.66 567 L495.08 566.29 L496.49 564.88M509.24 559.21 L507.82 557.8 L506.4 557.09 L504.28 557.09 L502.86 557.8 L501.45 559.21 L500.74 561.34 L500.74 562.75 L501.45 564.88 L502.86 566.29 L504.28 567 L506.4 567 L507.82 566.29 L509.24 564.88M513.48 549.3 L514.9 550.72 L516.32 552.84 L517.73 555.67 L518.44 559.21 L518.44 562.04 L517.73 565.58 L516.32 568.42 L514.9 570.54 L513.48 571.96"/>
<path d="M50.63 371.79 L65.5 366.13M50.63 360.46 L65.5 366.13M59.84 357.63 L59.84 349.14 L58.42 349.14 L57 349.84 L56.3 350.55 L55.59 351.97 L55.59 354.09 L56.3 355.51 L57.71 356.92 L59.84 357.63 L61.25 357.63 L63.38 356.92 L64.79 355.51 L65.5 354.09 L65.5 351.97 L64.79 350.55 L63.38 349.14M50.63 344.18 L65.5 344.18M55.59 335.68 L56.3 337.1 L57.71 338.52 L59.84 339.22 L61.25 339.22 L63.38 338.52 L64.79 337.1 L65.5 335.68 L65.5 333.56 L64.79 332.14 L63.38 330.73 L61.25 330.02 L59.84 330.02 L57.71 330.73 L56.3 332.14 L55.59 333.56 L55.59 335.68M57.71 317.28 L56.3 318.69 L55.59 320.11 L55.59 322.23 L56.3 323.65 L57.71 325.06 L59.84 325.77 L61.25 325.77 L63.38 325.06 L64.79 323.65 L65.5 322.23 L65.5 320.11 L64.79 318.69 L63.38 317.28M50.63 313.03 L51.34 312.32 L50.63 311.61 L49.92 312.32 L50.63 313.03M55.59 312.32 L65.5 312.32M50.63 305.95 L62.67 305.95 L64.79 305.24 L65.5 303.82 L65.5 302.41M55.59 308.07 L55.59 303.12M55.59 299.58 L65.5 295.33M55.59 291.08 L65.5 295.33 L68.33 296.74 L69.75 298.16 L70.46 299.58 L70.46 300.28M47.8 270.55 L49.22 271.96 L51.34 273.38 L54.17 274.8 L57.71 275.5 L60.54 275.5 L64.08 274.8 L66.92 273.38 L69.04 271.96 L70.46 270.55M50.63 265.59 L65.5 265.59M55.59 258.51 L62.67 265.59M59.84 262.76 L65.5 257.8M55.59 253.56 L65.5 253.56M58.42 253.56 L56.3 251.43 L55.59 250.02 L55.59 247.89 L56.3 246.48 L58.42 245.77 L65.5 245.77M58.42 245.77 L56.3 243.64 L55.59 242.23 L55.59 240.1 L56.3 238.69 L58.42 237.98 L65.5 237.98M57.71 213.91 L56.3 214.62 L55.59 216.74 L55.59 218.86 L56.3 220.99 L57.71 221.7 L59.13 220.99 L59.84 219.57 L60.54 216.03 L61.25 214.62 L62.67 213.91 L63.38 213.91 L64.79 214.62 L65.5 216.74 L65.5 218.86 L64.79 220.99 L63.38 221.7"/>
<path d="M50.35 210.03 L50.35 202.13M46.84 197.74 L46.4 196.86 L45.08 195.54 L54.3 195.54"/>
<path d="M47.8 186.67 L49.22 185.25 L51.34 183.84 L54.17 182.42 L57.71 181.71 L60.54 181.71 L64.08 182.42 L66.92 183.84 L69.04 185.25 L70.46 186.67"/>
<path d="M168.45 64.08 L166.92 65.61 L165.39 67.9 L163.86 70.96 L163.1 74.78 L163.1 77.84 L163.86 81.67 L165.39 84.73 L166.92 87.03 L168.45 88.56M173.81 67.14 L173.81 83.2M173.81 74.78 L175.34 73.25 L176.87 72.49 L179.16 72.49 L180.69 73.25 L182.22 74.78 L182.99 77.08 L182.99 78.61 L182.22 80.91 L180.69 82.44 L179.16 83.2 L176.87 83.2 L175.34 82.44 L173.81 80.91M187.58 64.08 L189.11 65.61 L190.64 67.9 L192.17 70.96 L192.94 74.78 L192.94 77.84 L192.17 81.67 L190.64 84.73 L189.11 87.03 L187.58 88.56"/>
<path d="M646.35 311.2 L645.15 310 L643.35 309.4 L640.95 309.4 L639.15 310 L637.95 311.2 L637.95 312.4 L638.55 313.6 L639.15 314.2 L640.35 314.8 L643.95 316 L645.15 316.6 L645.75 317.2 L646.35 318.4 L646.35 320.2 L645.15 321.4 L643.35 322 L640.95 322 L639.15 321.4 L637.95 320.2M649.95 317.2 L657.15 317.2 L657.15 316 L656.55 314.8 L655.95 314.2 L654.75 313.6 L652.95 313.6 L651.75 314.2 L650.55 315.4 L649.95 317.2 L649.95 318.4 L650.55 320.2 L651.75 321.4 L652.95 322 L654.75 322 L655.95 321.4 L657.15 320.2M661.35 313.6 L661.35 322M661.35 317.2 L661.95 315.4 L663.15 314.2 L664.35 313.6 L666.15 313.6M675.15 315.4 L674.55 314.2 L672.75 313.6 L670.95 313.6 L669.15 314.2 L668.55 315.4 L669.15 316.6 L670.35 317.2 L673.35 317.8 L674.55 318.4 L675.15 319.6 L675.15 320.2 L674.55 321.4 L672.75 322 L670.95 322 L669.15 321.4 L668.55 320.2M678.75 309.4 L679.35 310 L679.95 309.4 L679.35 308.8 L678.75 309.4M679.35 313.6 L679.35 322M690.75 315.4 L689.55 314.2 L688.35 313.6 L686.55 313.6 L685.35 314.2 L684.15 315.4 L683.55 317.2 L683.55 318.4 L684.15 320.2 L685.35 321.4 L686.55 322 L688.35 322 L689.55 321.4 L690.75 320.2M704.55 313.6 L704.55 322M704.55 316 L706.35 314.2 L707.55 313.6 L709.35 313.6 L710.55 314.2 L711.15 316 L711.15 322M715.95 314.8 L726.75 314.8M715.95 318.4 L726.75 318.4M732.15 309.4 L738.75 309.4 L735.15 314.2 L736.95 314.2 L738.15 314.8 L738.75 315.4 L739.35 317.2 L739.35 318.4 L738.75 320.2 L737.55 321.4 L735.75 322 L733.95 322 L732.15 321.4 L731.55 320.8 L730.95 319.6"/>
<path d="M646.35 341.95 L645.15 340.75 L643.35 340.15 L640.95 340.15 L639.15 340.75 L637.95 341.95 L637.95 343.15 L638.55 344.35 L639.15 344.95 L640.35 345.55 L643.95 346.75 L645.15 347.35 L645.75 347.95 L646.35 349.15 L646.35 350.95 L645.15 352.15 L643.35 352.75 L640.95 352.75 L639.15 352.15 L637.95 350.95M649.95 347.95 L657.15 347.95 L657.15 346.75 L656.55 345.55 L655.95 344.95 L654.75 344.35 L652.95 344.35 L651.75 344.95 L650.55 346.15 L649.95 347.95 L649.95 349.15 L650.55 350.95 L651.75 352.15 L652.95 352.75 L654.75 352.75 L655.95 352.15 L657.15 350.95M661.35 344.35 L661.35 352.75M661.35 347.95 L661.95 346.15 L663.15 344.95 L664.35 344.35 L666.15 344.35M675.15 346.15 L674.55 344.95 L672.75 344.35 L670.95 344.35 L669.15 344.95 L668.55 346.15 L669.15 347.35 L670.35 347.95 L673.35 348.55 L674.55 349.15 L675.15 350.35 L675.15 350.95 L674.55 352.15 L672.75 352.75 L670.95 352.75 L669.15 352.15 L668.55 350.95M678.75 340.15 L679.35 340.75 L679.95 340.15 L679.35 339.55 L678.75 340.15M679.35 344.35 L679.35 352.75M690.75 346.15 L689.55 344.95 L688.35 344.35 L686.55 344.35 L685.35 344.95 L684.15 346.15 L683.55 347.95 L683.55 349.15 L684.15 350.95 L685.35 352.15 L686.55 352.75 L688.35 352.75 L689.55 352.15 L690.75 350.95M704.55 344.35 L704.55 352.75M704.55 346.75 L706.35 344.95 L707.55 344.35 L709.35 344.35 L710.55 344.95 L711.15 346.75 L711.15 352.75M715.95 345.55 L726.75 345.55M715.95 349.15 L726.75 349.15M731.55 343.15 L731.55 342.55 L732.15 341.35 L732.75 340.75 L733.95 340.15 L736.35 340.15 L737.55 340.75 L738.15 341.35 L738.75 342.55 L738.75 343.75 L738.15 344.95 L736.95 346.75 L730.95 352.75 L739.35 352.75"/>
<path d="M641.55 370.9 L636.75 383.5M641.55 370.9 L646.35 383.5M638.55 379.3 L644.55 379.3M657.75 373.9 L657.15 372.7 L655.95 371.5 L654.75 370.9 L652.35 370.9 L651.15 371.5 L649.95 372.7 L649.35 373.9 L648.75 375.7 L648.75 378.7 L649.35 380.5 L649.95 381.7 L651.15 382.9 L652.35 383.5 L654.75 383.5 L655.95 382.9 L657.15 381.7 L657.75 380.5 L657.75 378.7M654.75 378.7 L657.75 378.7M661.95 370.9 L661.95 383.5M661.95 370.9 L670.35 383.5M670.35 370.9 L670.35 383.5M675.15 378.1 L685.95 378.1M698.55 372.7 L697.35 371.5 L695.55 370.9 L693.15 370.9 L691.35 371.5 L690.15 372.7 L690.15 373.9 L690.75 375.1 L691.35 375.7 L692.55 376.3 L696.15 377.5 L697.35 378.1 L697.95 378.7 L698.55 379.9 L698.55 381.7 L697.35 382.9 L695.55 383.5 L693.15 383.5 L691.35 382.9 L690.15 381.7M702.75 375.1 L702.75 381.1 L703.35 382.9 L704.55 383.5 L706.35 383.5 L707.55 382.9 L709.35 381.1M709.35 375.1 L709.35 383.5M714.15 370.9 L714.15 383.5M714.15 376.9 L715.35 375.7 L716.55 375.1 L718.35 375.1 L719.55 375.7 L720.75 376.9 L721.35 378.7 L721.35 379.9 L720.75 381.7 L719.55 382.9 L718.35 383.5 L716.55 383.5 L715.35 382.9 L714.15 381.7M726.15 382.3 L725.55 382.9 L726.15 383.5 L726.75 382.9 L726.15 382.3"/>
</g>
<g class="sem">
<text x="134.65" y="539.6" font-size="20" text-anchor="middle">0.0</text>
<text x="222.03" y="539.6" font-size="20" text-anchor="middle">0.2</text>
<text x="309.41" y="539.6" font-size="20" text-anchor="middle">0.4</text>
<text x="396.79" y="539.6" font-size="20" text-anchor="middle">0.6</text>
<text x="484.17" y="539.6" font-size="20" text-anchor="middle">0.8</text>
<text x="571.55" y="539.6" font-size="20" text-anchor="middle">1.0</text>
<text x="658.93" y="539.6" font-size="20" text-anchor="middle">1.2</text>
<text x="746.31" y="539.6" font-size="20" text-anchor="middle">1.4</text>
<text x="126" y="507.5" font-size="20" text-anchor="end">0</text>
<text x="126" y="453.93" font-size="20" text-anchor="end">20</text>
<text x="126" y="391.95" font-size="20" text-anchor="end">40</text>
<text x="126" y="329.98" font-size="20" text-anchor="end">60</text>
<text x="126" y="268.01" font-size="20" text-anchor="end">80</text>
<text x="126" y="206.03" font-size="20" text-anchor="end">100</text>
<text x="126" y="144.06" font-size="20" text-anchor="end">120</text>
<text x="126" y="82.09" font-size="20" text-anchor="end">140</text>
<text x="462" y="567" font-size="20" text-anchor="middle">R (arcsec)</text>
<text x="66" y="277" font-size="20" text-anchor="middle" transform="rotate(-90 66 277)">Velocity (km s<tspan dy="-7" font-size="13">-1</tspan><tspan dy="7">)</tspan></text>
<text x="162" y="82.6" font-size="22" text-anchor="start">(b)</text>
<text x="637" y="322" font-size="17" text-anchor="start">Sersic n=3</text>
<text x="637" y="352.75" font-size="17" text-anchor="start">Sersic n=2</text>
<text x="637" y="383.5" font-size="17" text-anchor="start">AGN-Sub.</text>
</g>
</svg>
</body></html>
